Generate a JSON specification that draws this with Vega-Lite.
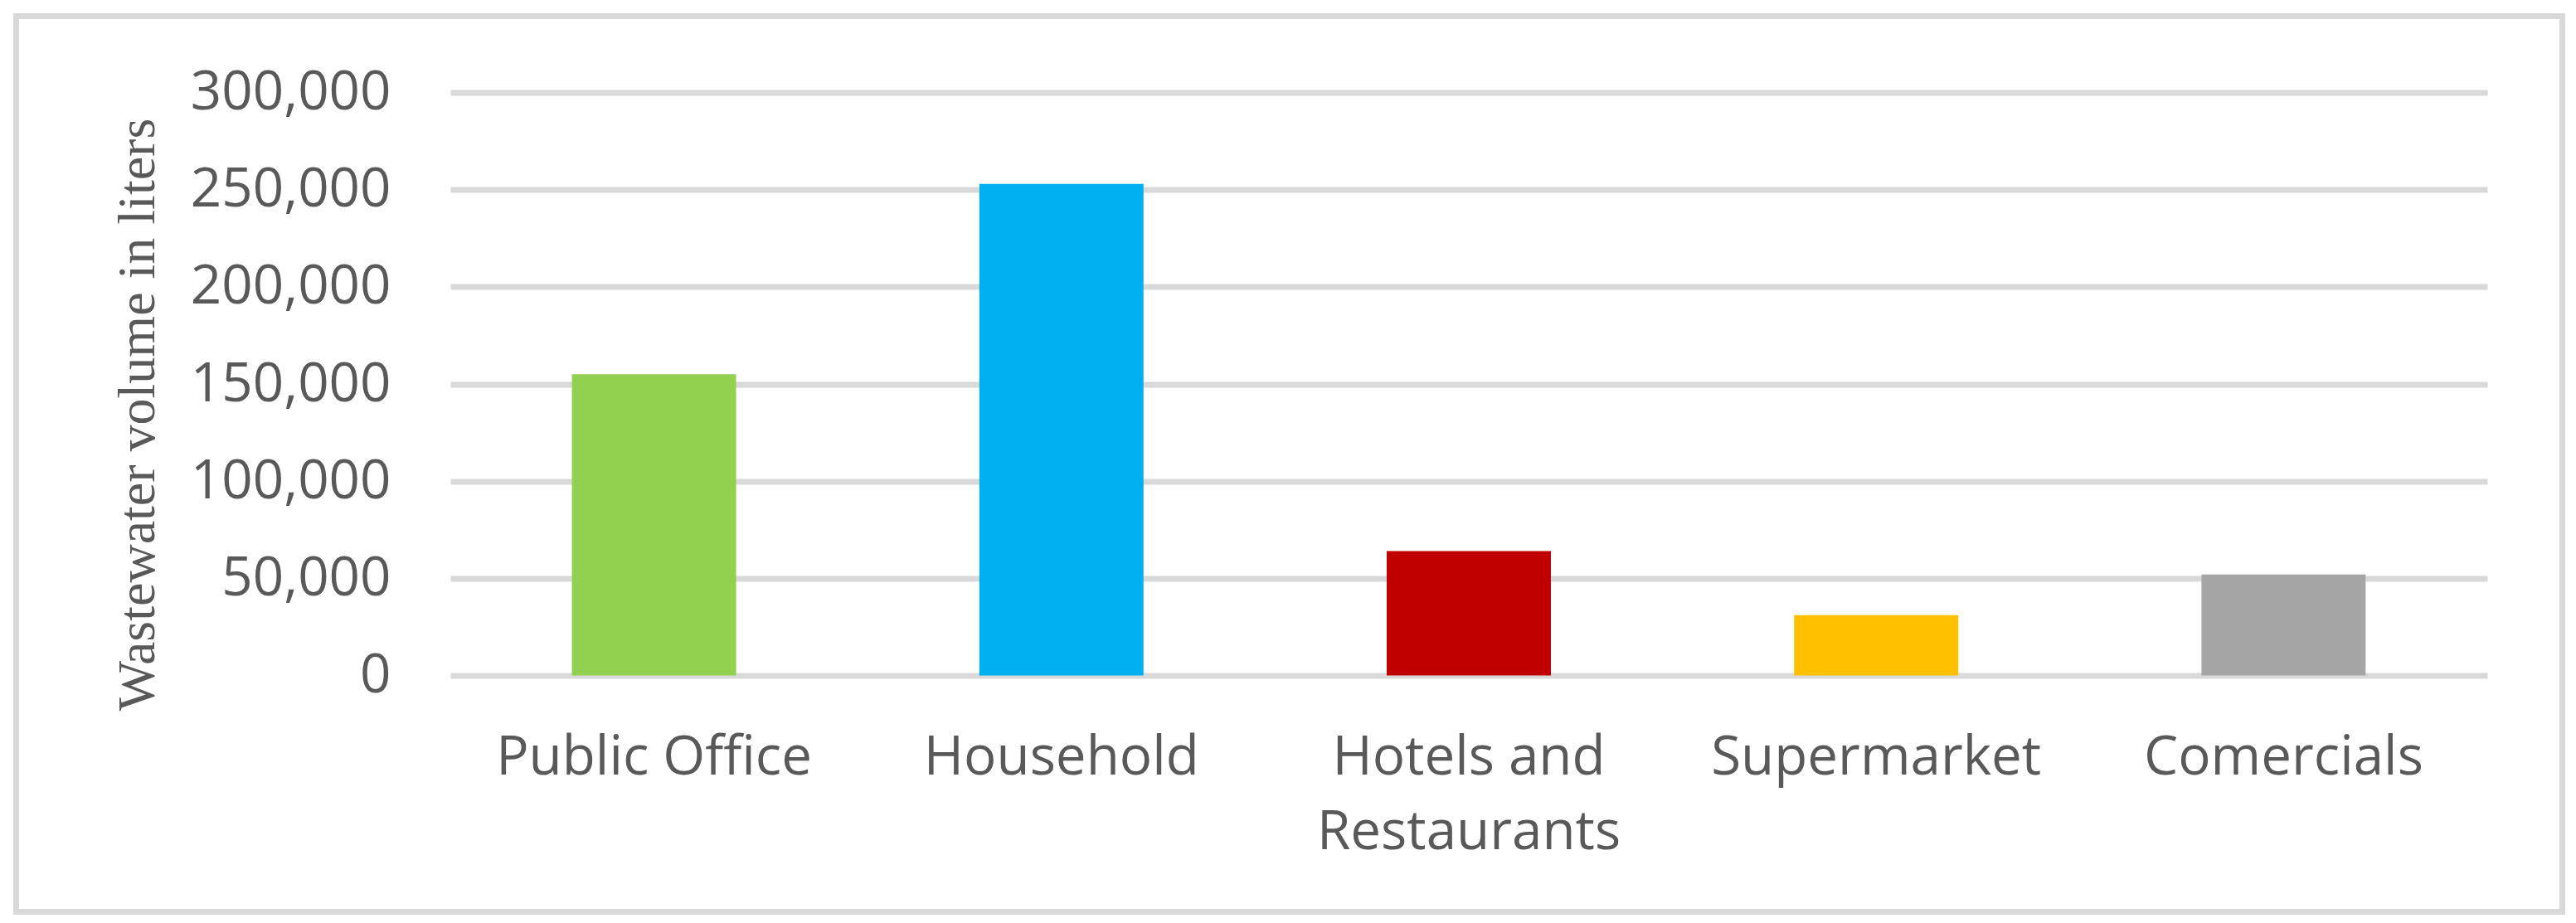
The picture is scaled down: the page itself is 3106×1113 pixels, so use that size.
{
  "$schema": "https://vega.github.io/schema/vega-lite/v6.json",
  "width": 3070,
  "height": 1080,
  "autosize": {"type": "none"},
  "padding": {"left": 19.5, "top": 19.5, "right": 16.5, "bottom": 13.5},
  "background": "white",
  "config": {"view": {"stroke": "#D9D9D9", "strokeWidth": 7}},
  "data": {
    "values": [
      {"category": "Public Office", "volume": 155000},
      {"category": "Household", "volume": 253000},
      {"category": "Hotels and Restaurants", "volume": 64000},
      {"category": "Supermarket", "volume": 31000},
      {"category": "Comercials", "volume": 52000}
    ]
  },
  "mark": {"type": "bar"},
  "encoding": {
    "x": {
      "field": "category",
      "type": "nominal",
      "sort": null,
      "scale": {"range": [523.5, 2979.5], "paddingInner": 0.597, "paddingOuter": 0.2985},
      "axis": {
        "title": null,
        "labelAngle": 0,
        "domain": false,
        "ticks": false,
        "grid": false,
        "offset": -285,
        "labelPadding": 119,
        "labelBaseline": "alphabetic",
        "labelAlign": "center",
        "labelFont": "Open Sans",
        "labelFontSize": 65.5,
        "labelColor": "#595959",
        "labelLimit": 0,
        "labelLineHeight": 90,
        "labelExpr": "datum.label == 'Hotels and Restaurants' ? ['Hotels and', 'Restaurants'] : datum.label"
      }
    },
    "y": {
      "field": "volume",
      "type": "quantitative",
      "scale": {"domain": [0, 300000], "nice": false, "range": [795, 92]},
      "axis": {
        "title": "Wastewater volume in liters",
        "values": [0, 50000, 100000, 150000, 200000, 250000, 300000],
        "format": ",d",
        "domain": false,
        "ticks": false,
        "offset": -523.5,
        "labelPadding": 72,
        "labelFont": "Open Sans",
        "labelFontSize": 65.5,
        "labelColor": "#595959",
        "labelLimit": 0,
        "grid": true,
        "gridColor": "#D9D9D9",
        "gridWidth": 7,
        "titleFont": "Liberation Serif",
        "titleFontSize": 64,
        "titleFontWeight": "normal",
        "titleColor": "#595959",
        "titleX": -358,
        "titleY": 480,
        "titleAngle": -90,
        "titleAlign": "center",
        "titleBaseline": "alphabetic"
      }
    },
    "color": {
      "field": "category",
      "type": "nominal",
      "sort": null,
      "scale": {
        "domain": ["Public Office", "Household", "Hotels and Restaurants", "Supermarket", "Comercials"],
        "range": ["#92D050", "#00B0F0", "#C00000", "#FFC000", "#A5A5A5"]
      },
      "legend": null
    }
  }
}
